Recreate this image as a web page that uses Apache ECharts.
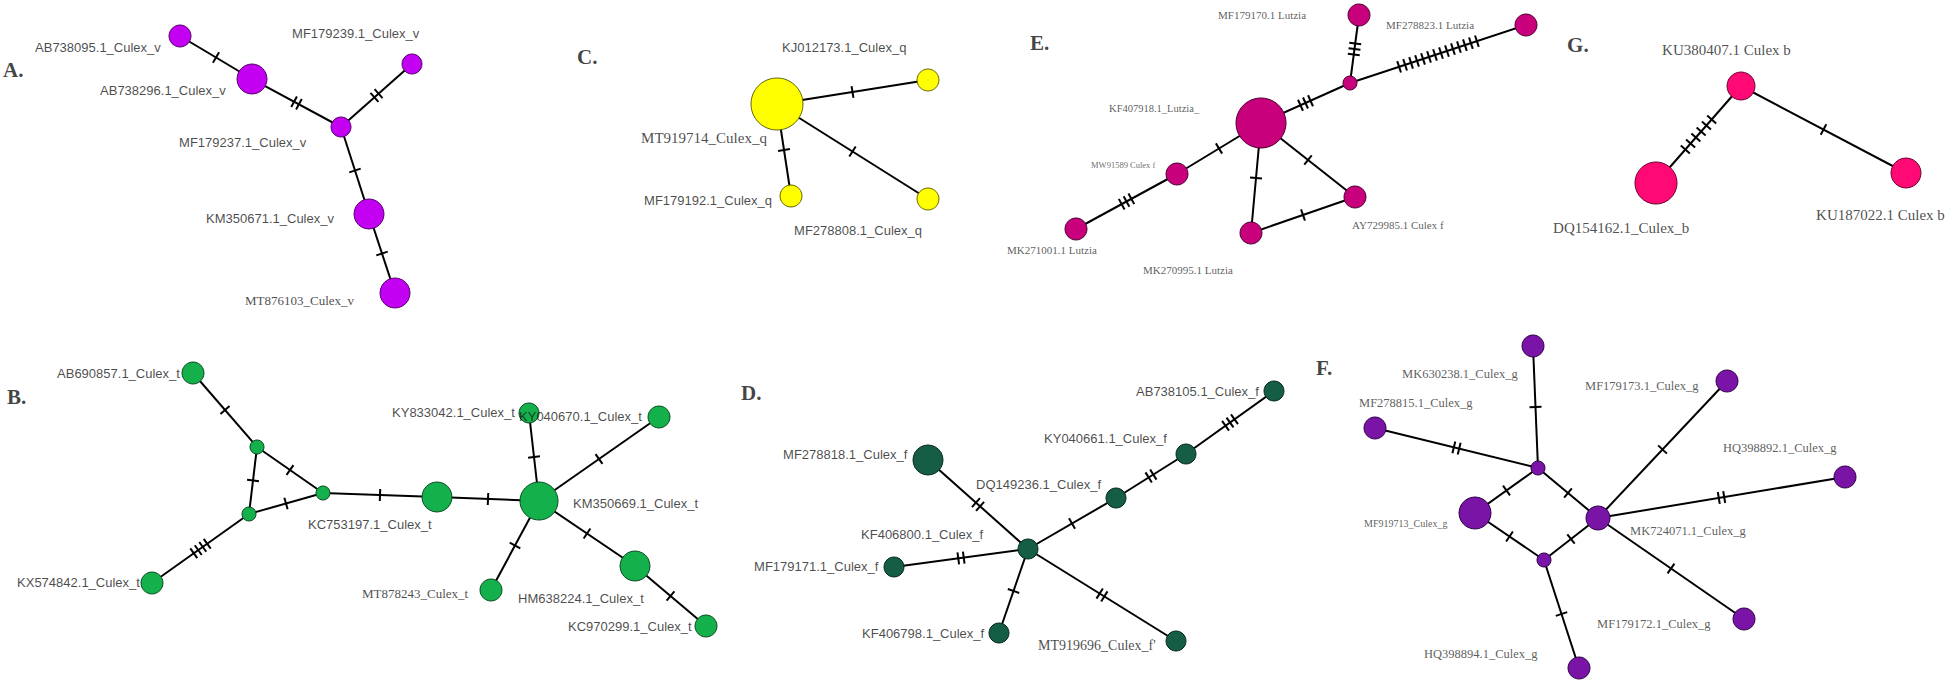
<!DOCTYPE html>
<html>
<head>
<meta charset="utf-8">
<script src="https://cdn.jsdelivr.net/npm/echarts@6/dist/echarts.min.js"></script>
<style>
    body { margin: 0; background: #fff; }
    #chart { width: 1958px; height: 682px; }
</style>
</head>
<body>
<div id="chart"></div>
<script>
// haplotype nodes: [name, x, y, radius]  (links: [from, to, mutations])
const A_nodes = [
    ['AB738095.1_Culex_v', 180, 36, 11],
    ['AB738296.1_Culex_v', 252, 79, 15],
    ['MF179237.1_Culex_v', 341, 127, 10],
    ['MF179239.1_Culex_v', 412, 64, 10],
    ['KM350671.1_Culex_v', 369, 214, 15],
    ['MT876103_Culex_v', 395, 293, 15]
]
const A_links = [[0, 1, 1], [1, 2, 2], [2, 3, 2], [2, 4, 1], [4, 5, 1]]

const C_nodes = [
    ['MT919714_Culex_q', 777, 104, 26],
    ['KJ012173.1_Culex_q', 928, 80, 11],
    ['MF179192.1_Culex_q', 791, 196, 11],
    ['MF278808.1_Culex_q', 928, 199, 11]
]
const C_links = [[0, 1, 1], [0, 2, 1], [0, 3, 1]]

const E_nodes = [
    ['KF407918.1_Lutzia_', 1261, 123, 25],
    ['', 1350, 83, 7],
    ['MF179170.1 Lutzia', 1359, 15, 11],
    ['MF278823.1 Lutzia', 1526, 25, 11],
    ['MW91589 Culex f', 1177, 174, 11],
    ['MK271001.1 Lutzia', 1076, 229, 11],
    ['MK270995.1 Lutzia', 1251, 233, 11],
    ['AY729985.1 Culex f', 1355, 197, 11]
]
const E_links = [[0, 1, 3], [1, 2, 3], [1, 3, 14], [0, 4, 1], [4, 5, 3], [0, 6, 1], [0, 7, 1], [6, 7, 1]]

const G_nodes = [
    ['KU380407.1 Culex b', 1741, 86, 14],
    ['DQ154162.1_Culex_b', 1656, 183, 21],
    ['KU187022.1 Culex b', 1906, 173, 15]
]
const G_links = [[0, 1, 6], [0, 2, 1]]

const B_nodes = [
    ['AB690857.1_Culex_t', 193, 373, 11],
    ['', 257, 447, 7],
    ['', 249, 514, 7],
    ['', 323, 493, 7],
    ['KC753197.1_Culex_t', 437, 497, 15],
    ['KM350669.1_Culex_t', 539, 501, 19],
    ['KY833042.1_Culex_t', 529, 413, 10],
    ['KY040670.1_Culex_t', 659, 417, 11],
    ['MT878243_Culex_t', 491, 590, 11],
    ['HM638224.1_Culex_t', 635, 566, 15],
    ['KC970299.1_Culex_t', 706, 626, 11],
    ['KX574842.1_Culex_t', 152, 583, 11]
]
const B_links = [[0, 1, 1], [1, 2, 1], [1, 3, 1], [2, 3, 1], [2, 11, 4], [3, 4, 1], [4, 5, 1],
    [5, 6, 1], [5, 7, 1], [5, 8, 1], [5, 9, 1], [9, 10, 1]]

const D_nodes = [
    ['KF406800.1_Culex_f', 1028, 549, 10],
    ['MF278818.1_Culex_f', 928, 460, 15],
    ['DQ149236.1_Culex_f', 1116, 498, 10],
    ['KY040661.1_Culex_f', 1186, 454, 10],
    ['AB738105.1_Culex_f', 1274, 391, 10],
    ['MF179171.1_Culex_f', 894, 567, 10],
    ['KF406798.1_Culex_f', 999, 633, 10],
    ["MT919696_Culex_f'", 1176, 641, 10]
]
const D_links = [[1, 0, 2], [0, 2, 1], [2, 3, 2], [3, 4, 3], [5, 0, 2], [6, 0, 1], [0, 7, 2]]

const F_nodes = [
    ['', 1538, 468, 7],
    ['MK724071.1_Culex_g', 1598, 518, 12],
    ['', 1544, 560, 7],
    ['MF919713_Culex_g', 1475, 513, 16],
    ['MK630238.1_Culex_g', 1533, 346, 11],
    ['MF278815.1_Culex_g', 1375, 428, 11],
    ['MF179173.1_Culex_g', 1727, 381, 11],
    ['HQ398892.1_Culex_g', 1845, 477, 11],
    ['MF179172.1_Culex_g', 1744, 619, 11],
    ['HQ398894.1_Culex_g', 1579, 668, 11]
]
const F_links = [[4, 0, 1], [5, 0, 2], [0, 3, 1], [0, 1, 1], [3, 2, 1], [2, 1, 1],
    [1, 6, 1], [1, 7, 2], [1, 8, 1], [2, 9, 1]]

// label anchors (left edge, middle) and font key, one per node
const A_labels = [[35, 47, 'sans'], [100, 90, 'sans'], [179, 142, 'sans'], [292, 33, 'sans'], [206, 218, 'sans'], [245, 300, 'serif13']]
const C_labels = [[641, 138, 'serif15'], [782, 47, 'sans'], [644, 200, 'sans'], [794, 230, 'sans']]
const E_labels = [[1109, 108, 'e10'], null, [1218, 15, 'e11'], [1386, 25, 'e11'], [1091, 165, 'e8'],
    [1007, 250, 'e11'], [1143, 270, 'e11'], [1352, 225, 'e11']]
const G_labels = [[1662, 50, 'g15'], [1553, 228, 'g15'], [1816, 215, 'g15']]
const B_labels = [[57, 373, 'sans'], null, null, null, [308, 524, 'sans'], [573, 503, 'sans'], [392, 412, 'sans'],
    [519, 416, 'sans'], [362, 593, 'serif13'], [518, 598, 'sans'], [568, 626, 'sans'], [17, 582, 'sans']]
const D_labels = [[861, 534, 'sans'], [783, 454, 'sans'], [976, 484, 'sans'], [1044, 438, 'sans'], [1136, 391, 'sans'],
    [754, 566, 'sans'], [862, 633, 'sans'], [1038, 645, 'serif14']]
const F_labels = [null, [1630, 531, 'f12'], null, [1364, 523, 'f10'], [1402, 374, 'f12'], [1359, 403, 'f12'],
    [1585, 386, 'f12'], [1723, 448, 'f12'], [1597, 624, 'f12'], [1424, 654, 'f12']]

const panelLetters = [['A.', 3, 70], ['C.', 577, 57], ['E.', 1030, 43], ['G.', 1567, 45],
    ['B.', 7, 397], ['D.', 741, 393], ['F.', 1316, 368]]

const fonts = {
    sans: {fontFamily: 'Liberation Sans', fontSize: 13, color: '#1a1a1a'},
    serif13: {fontFamily: 'Liberation Serif', fontSize: 13, color: '#1a1a1a'},
    serif14: {fontFamily: 'Liberation Serif', fontSize: 14, color: '#1a1a1a'},
    serif15: {fontFamily: 'Liberation Serif', fontSize: 15, color: '#1a1a1a'},
    e11: {fontFamily: 'Liberation Serif', fontSize: 11, color: '#333'},
    e10: {fontFamily: 'Liberation Serif', fontSize: 10.5, color: '#333'},
    e8: {fontFamily: 'Liberation Serif', fontSize: 8.5, color: '#444'},
    g15: {fontFamily: 'Liberation Serif', fontSize: 15, color: '#222'},
    f12: {fontFamily: 'Liberation Serif', fontSize: 12.5, color: '#333'},
    f10: {fontFamily: 'Liberation Serif', fontSize: 10, color: '#333'},
    panel: {fontFamily: 'Liberation Serif', fontSize: 21, fontWeight: 'bold', color: '#111'}
}

const panels = [
    {nodes: A_nodes, links: A_links, labels: A_labels, color: '#c400f3', border: '#55006a'},
    {nodes: C_nodes, links: C_links, labels: C_labels, color: '#ffff00', border: '#666600'},
    {nodes: E_nodes, links: E_links, labels: E_labels, color: '#c8007c', border: '#4a0030'},
    {nodes: G_nodes, links: G_links, labels: G_labels, color: '#ff0a74', border: '#6a0030'},
    {nodes: B_nodes, links: B_links, labels: B_labels, color: '#14b04c', border: '#0a4a20'},
    {nodes: D_nodes, links: D_links, labels: D_labels, color: '#155e45', border: '#06281c'},
    {nodes: F_nodes, links: F_links, labels: F_labels, color: '#7a14a6', border: '#2e0048'}
]

const graphSeries = (p) => {
    return {
        type: 'graph',
        coordinateSystem: 'cartesian2d',
        layout: 'none',
        silent: true,
        z: 2,
        data: p.nodes.map(n => ({
            value: [n[1], n[2]],
            symbolSize: n[3] * 2
        })),
        links: p.links.map(l => ({source: l[0], target: l[1]})),
        itemStyle: {color: p.color, borderColor: p.border, borderWidth: 1},
        lineStyle: {color: '#000', width: 2, opacity: 1, curveness: 0},
        label: {show: false},
        emphasis: {disabled: true}
    }
}

// mutation ticks drawn across the middle of each link
const tickData = []
panels.forEach(p => {
    p.links.forEach(l => {
        const a = p.nodes[l[0]], b = p.nodes[l[1]]
        tickData.push([a[1], a[2], b[1], b[2], l[2]])
    })
})

const renderTicks = (params, api) => {
    const p1 = api.coord([api.value(0), api.value(1)])
    const p2 = api.coord([api.value(2), api.value(3)])
    const n = api.value(4)
    const dx = p2[0] - p1[0], dy = p2[1] - p1[1]
    const len = Math.sqrt(dx * dx + dy * dy)
    const ux = dx / len, uy = dy / len
    const nx = -uy, ny = ux
    const gap = n > 8 ? 6.3 : (n === 6 ? 8 : 5.5)
    const half = 6
    const mx = p1[0] + dx * 0.5, my = p1[1] + dy * 0.5
    const children = []
    for (let i = 0; i < n; i++) {
        const off = (i - (n - 1) / 2) * gap
        const cx = mx + ux * off, cy = my + uy * off
        children.push({
            type: 'line',
            shape: {x1: cx - nx * half, y1: cy - ny * half, x2: cx + nx * half, y2: cy + ny * half},
            style: {stroke: '#000', lineWidth: 2}
        })
    }
    return {type: 'group', children: children}
}

const labelData = []
panels.forEach(p => {
    p.nodes.forEach((n, i) => {
        const lb = p.labels[i]
        if (!lb) return
        labelData.push({
            value: [lb[0], lb[1]],
            name: n[0],
            label: Object.assign({show: true, formatter: n[0]}, fonts[lb[2]])
        })
    })
})
panelLetters.forEach(t => {
    labelData.push({
        value: [t[1], t[2]],
        name: t[0],
        label: Object.assign({show: true, formatter: t[0]}, fonts.panel)
    })
})

const chart = echarts.init(document.getElementById('chart'), null, {renderer: 'svg'})
chart.setOption({
    animation: false,
    backgroundColor: '#fff',
    grid: {left: 0, right: 0, top: 0, bottom: 0},
    xAxis: {type: 'value', min: 0, max: 1958, show: false},
    yAxis: {type: 'value', min: 0, max: 682, inverse: true, show: false},
    series: panels.map(graphSeries).concat([
        {
            type: 'custom',
            coordinateSystem: 'cartesian2d',
            renderItem: renderTicks,
            data: tickData,
            silent: true,
            clip: false,
            z: 3
        },
        {
            type: 'scatter',
            data: labelData,
            symbolSize: 0.1,
            itemStyle: {color: 'rgba(0,0,0,0)'},
            silent: true,
            z: 4,
            label: {show: true, position: 'right', distance: 0, align: 'left', verticalAlign: 'middle'}
        }
    ])
})
</script>
</body>
</html>
